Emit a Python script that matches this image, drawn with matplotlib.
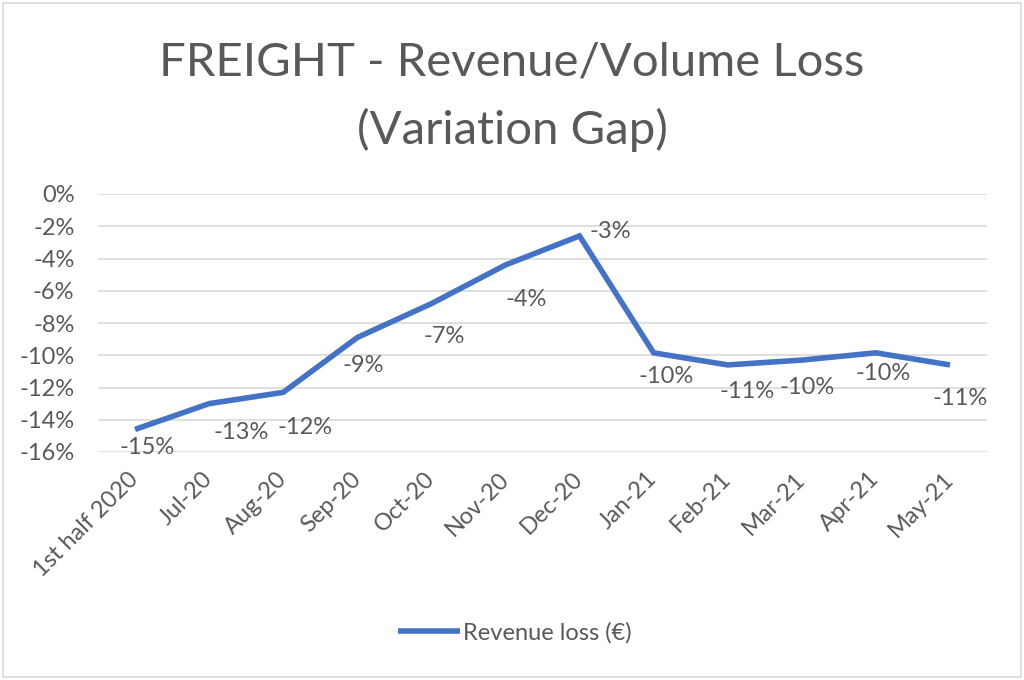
import matplotlib

matplotlib.use("Agg")
import matplotlib.pyplot as plt
from matplotlib.patches import Rectangle
from matplotlib.ticker import FuncFormatter

plt.rcParams["font.family"] = ["Lato", "DejaVu Sans"]

# data (percent)
months = ["1st half 2020", "Jul-20", "Aug-20", "Sep-20", "Oct-20", "Nov-20",
          "Dec-20", "Jan-21", "Feb-21", "Mar-21", "Apr-21", "May-21"]
revenue_loss = [-14.6, -13.0, -12.3, -8.9, -6.8, -4.4,
                -2.6, -9.85, -10.6, -10.3, -9.85, -10.6]
y_ticks = [0, -2, -4, -6, -8, -10, -12, -14, -16]

# label offsets in points (labels were placed by hand in the original)
label_offsets = [(9, -13), (23, -21), (16, -25), (4, -20), (9, -24), (15, -25),
                 (22, 3), (9, -17), (14, -19), (4, -20), (5, -15), (7, -24)]

BLUE = "#4472C4"
GREY = "#595959"
GRID = "#D9D9D9"

fig = plt.figure(figsize=(10.24, 6.8), dpi=100)
ax = fig.add_axes([98 / 1024, 1 - 452 / 680, 889 / 1024, 258 / 680])

x = list(range(len(months)))
line, = ax.plot(x, revenue_loss, color=BLUE, lw=4, solid_joinstyle="miter",
                solid_capstyle="butt", label="Revenue loss (€)", zorder=3)

for xi, v, off in zip(x, revenue_loss, label_offsets):
    ax.annotate(f"{v:.0f}%", (xi, v), xytext=off, textcoords="offset points",
                ha="center", va="center", fontsize=17, color=GREY)

ax.set_xlim(-0.5, len(months) - 0.5)
ax.set_ylim(-16, 0)
ax.set_yticks(y_ticks)
ax.yaxis.set_major_formatter(FuncFormatter(lambda v, _: f"{v:.0f}%"))
ax.grid(axis="y", color=GRID, lw=1.2)
ax.set_axisbelow(True)
for s in ax.spines.values():
    s.set_visible(False)

ax.set_xticks(x)
ax.set_xticklabels(months, rotation=45, ha="right", va="center",
                   rotation_mode="anchor")
ax.tick_params(axis="x", length=0, pad=17, labelsize=17, labelcolor=GREY)
ax.tick_params(axis="y", length=0, pad=17, labelsize=17, labelcolor=GREY)

fig.text(0.5, 1 - 62 / 680, "FREIGHT - Revenue/Volume Loss", ha="center",
         va="center", fontsize=34, color=GREY)
fig.text(0.5, 1 - 130 / 680, "(Variation Gap)", ha="center", va="center",
         fontsize=34, color=GREY)

fig.legend(handles=[line], loc="center", bbox_to_anchor=(0.503, 1 - 633 / 680),
           frameon=False, fontsize=17, handlelength=2.6, handletextpad=0.15,
           labelcolor=GREY)

fig.patches.append(Rectangle((3 / 1024, 3 / 680), 1 - 6 / 1024, 1 - 6 / 680,
                             transform=fig.transFigure, fill=False,
                             edgecolor=GRID, lw=1.2))

fig.savefig("out.png", dpi=100)
plt.close(fig)
